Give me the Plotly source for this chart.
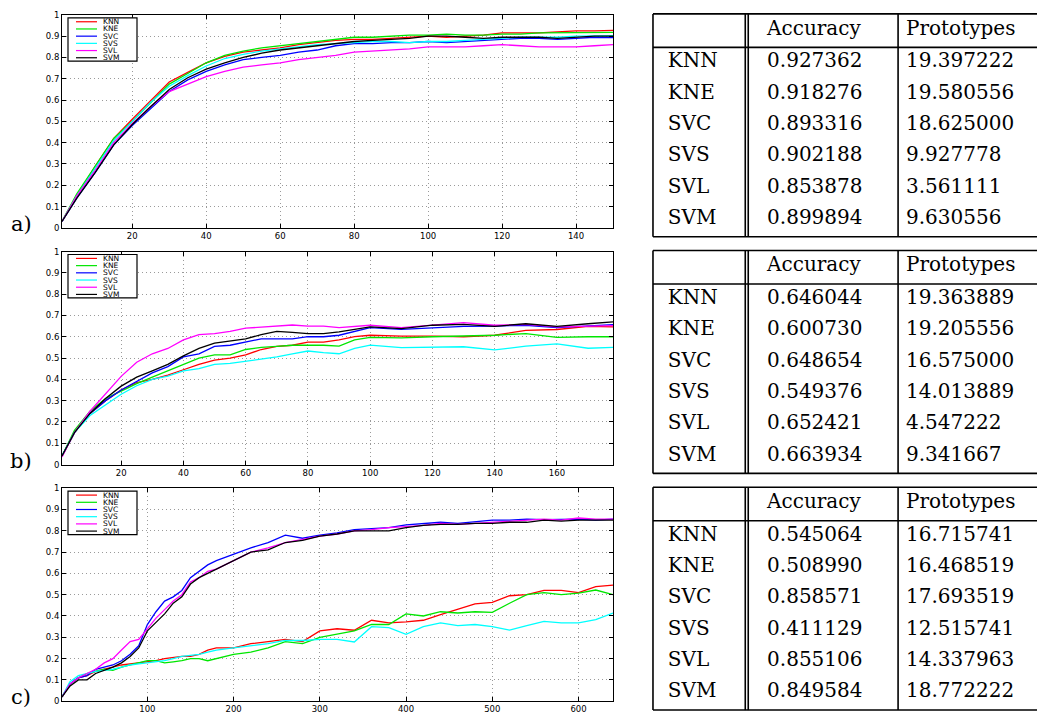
import plotly.graph_objects as go

W, H = 1037, 720

series_names = ["KNN", "KNE", "SVC", "SVS", "SVL", "SVM"]
series_colors = ["#ff0000", "#00e600", "#0000ff", "#00ffff", "#ff00ff", "#000000"]

# ---------------- panel a) ----------------
a_x = [1, 5, 10, 15, 20, 25, 30, 35, 40, 45, 50, 55, 60, 65, 70, 75, 80, 85, 90, 95,
       100, 105, 110, 115, 120, 125, 130, 135, 140, 145, 150]
a_knn = [0.03, 0.15, 0.29, 0.42, 0.51, 0.60, 0.685, 0.73, 0.775, 0.805, 0.825, 0.835, 0.845, 0.86, 0.87,
         0.88, 0.885, 0.885, 0.89, 0.895, 0.90, 0.895, 0.90, 0.905, 0.915, 0.915, 0.915, 0.92, 0.925, 0.925, 0.927]
a_kne = [0.03, 0.16, 0.29, 0.42, 0.50, 0.59, 0.675, 0.725, 0.775, 0.81, 0.83, 0.845, 0.855, 0.865, 0.875,
         0.885, 0.895, 0.895, 0.90, 0.905, 0.905, 0.91, 0.905, 0.905, 0.91, 0.91, 0.915, 0.915, 0.915, 0.915, 0.918]
a_svc = [0.03, 0.14, 0.26, 0.39, 0.48, 0.56, 0.64, 0.695, 0.735, 0.765, 0.79, 0.80, 0.81, 0.825, 0.835,
         0.855, 0.865, 0.865, 0.87, 0.87, 0.875, 0.87, 0.875, 0.88, 0.885, 0.89, 0.89, 0.885, 0.89, 0.895, 0.893]
a_svs = [0.03, 0.15, 0.28, 0.41, 0.50, 0.59, 0.665, 0.715, 0.76, 0.795, 0.815, 0.83, 0.84, 0.85, 0.86,
         0.865, 0.87, 0.875, 0.875, 0.87, 0.875, 0.875, 0.88, 0.885, 0.89, 0.895, 0.895, 0.895, 0.90, 0.90, 0.902]
a_svl = [0.03, 0.15, 0.27, 0.40, 0.49, 0.57, 0.64, 0.675, 0.71, 0.735, 0.755, 0.765, 0.775, 0.79, 0.80,
         0.81, 0.825, 0.83, 0.835, 0.84, 0.85, 0.85, 0.85, 0.855, 0.86, 0.855, 0.85, 0.85, 0.85, 0.855, 0.86]
a_svm = [0.03, 0.14, 0.26, 0.39, 0.485, 0.57, 0.65, 0.705, 0.745, 0.775, 0.80, 0.82, 0.835, 0.845, 0.855,
         0.865, 0.875, 0.88, 0.885, 0.89, 0.90, 0.90, 0.895, 0.89, 0.895, 0.895, 0.895, 0.89, 0.895, 0.90, 0.90]
a_xticks = [20, 40, 60, 80, 100, 120, 140]
a_xrange = [1, 150]

# ---------------- panel b) ----------------
b_x = [1, 5, 10, 15, 20, 25, 30, 35, 40, 45, 50, 55, 60, 65, 70, 75, 80, 85, 90, 95,
       100, 110, 120, 130, 140, 150, 160, 170, 178]
b_knn = [0.04, 0.15, 0.24, 0.30, 0.35, 0.385, 0.40, 0.42, 0.445, 0.47, 0.49, 0.50, 0.515, 0.54, 0.555,
         0.56, 0.575, 0.575, 0.585, 0.60, 0.607, 0.603, 0.603, 0.60, 0.607, 0.63, 0.634, 0.649, 0.646]
b_kne = [0.04, 0.16, 0.25, 0.31, 0.345, 0.38, 0.41, 0.44, 0.47, 0.50, 0.515, 0.515, 0.54, 0.55, 0.555,
         0.56, 0.56, 0.56, 0.556, 0.585, 0.597, 0.595, 0.60, 0.603, 0.607, 0.615, 0.597, 0.60, 0.60]
b_svc = [0.04, 0.15, 0.24, 0.30, 0.35, 0.39, 0.43, 0.46, 0.505, 0.52, 0.555, 0.56, 0.575, 0.59, 0.59,
         0.59, 0.60, 0.60, 0.607, 0.625, 0.643, 0.635, 0.643, 0.649, 0.65, 0.654, 0.643, 0.649, 0.657]
b_svs = [0.04, 0.15, 0.23, 0.28, 0.33, 0.37, 0.40, 0.415, 0.44, 0.45, 0.47, 0.475, 0.485, 0.495, 0.505,
         0.52, 0.533, 0.525, 0.52, 0.545, 0.561, 0.549, 0.55, 0.553, 0.538, 0.556, 0.566, 0.546, 0.55]
b_svl = [0.035, 0.15, 0.25, 0.33, 0.414, 0.48, 0.52, 0.545, 0.585, 0.61, 0.615, 0.625, 0.64, 0.645, 0.65,
         0.655, 0.65, 0.65, 0.643, 0.65, 0.654, 0.643, 0.654, 0.666, 0.654, 0.658, 0.646, 0.649, 0.652]
b_svm = [0.04, 0.15, 0.24, 0.31, 0.368, 0.41, 0.44, 0.47, 0.51, 0.545, 0.57, 0.58, 0.59, 0.61, 0.625,
         0.62, 0.615, 0.615, 0.623, 0.635, 0.646, 0.638, 0.654, 0.658, 0.649, 0.661, 0.649, 0.661, 0.67]
b_xticks = [20, 40, 60, 80, 100, 120, 140, 160]
b_xrange = [1, 178]

# ---------------- panel c) ----------------
c_x = [1, 10, 20, 30, 40, 50, 60, 70, 80, 90, 100, 110, 120, 130, 140, 150, 160, 170, 180, 200, 220,
       240, 260, 280, 300, 320, 340, 360, 380, 400, 420, 440, 460, 480, 500, 520, 540, 560, 580, 600,
       620, 640]
c_knn = [0.02, 0.08, 0.11, 0.12, 0.14, 0.15, 0.16, 0.17, 0.175, 0.18, 0.185, 0.19, 0.20, 0.205, 0.21,
         0.21, 0.22, 0.24, 0.25, 0.25, 0.27, 0.28, 0.29, 0.28, 0.33, 0.34, 0.333, 0.38, 0.368, 0.372,
         0.38, 0.406, 0.43, 0.457, 0.464, 0.495, 0.50, 0.52, 0.52, 0.51, 0.538, 0.545]
c_kne = [0.02, 0.08, 0.11, 0.13, 0.14, 0.15, 0.145, 0.16, 0.17, 0.18, 0.19, 0.19, 0.18, 0.185, 0.19,
         0.20, 0.20, 0.19, 0.20, 0.22, 0.23, 0.25, 0.28, 0.27, 0.30, 0.314, 0.33, 0.36, 0.36, 0.41,
         0.40, 0.42, 0.414, 0.42, 0.417, 0.46, 0.50, 0.51, 0.50, 0.507, 0.522, 0.50]
c_svc = [0.02, 0.08, 0.11, 0.12, 0.15, 0.16, 0.17, 0.19, 0.22, 0.26, 0.36, 0.42, 0.47, 0.49, 0.52,
         0.58, 0.61, 0.64, 0.66, 0.69, 0.72, 0.745, 0.78, 0.765, 0.78, 0.79, 0.805, 0.81, 0.815, 0.828,
         0.835, 0.84, 0.835, 0.842, 0.85, 0.85, 0.855, 0.852, 0.855, 0.855, 0.85, 0.855]
c_svs = [0.02, 0.09, 0.12, 0.13, 0.14, 0.145, 0.15, 0.16, 0.17, 0.175, 0.18, 0.185, 0.19, 0.20, 0.21,
         0.215, 0.22, 0.23, 0.24, 0.25, 0.26, 0.27, 0.285, 0.285, 0.29, 0.29, 0.278, 0.35, 0.345, 0.314,
         0.35, 0.368, 0.355, 0.36, 0.35, 0.334, 0.355, 0.375, 0.368, 0.368, 0.383, 0.414]
c_svl = [0.02, 0.08, 0.11, 0.13, 0.15, 0.18, 0.20, 0.24, 0.28, 0.29, 0.34, 0.39, 0.43, 0.47, 0.50,
         0.56, 0.58, 0.61, 0.62, 0.66, 0.70, 0.72, 0.745, 0.76, 0.775, 0.785, 0.80, 0.805, 0.815, 0.82,
         0.825, 0.835, 0.83, 0.835, 0.84, 0.845, 0.85, 0.855, 0.85, 0.86, 0.855, 0.855]
c_svm = [0.02, 0.07, 0.10, 0.10, 0.13, 0.145, 0.16, 0.18, 0.21, 0.25, 0.33, 0.37, 0.41, 0.46, 0.49,
         0.55, 0.58, 0.60, 0.62, 0.66, 0.70, 0.71, 0.745, 0.755, 0.775, 0.785, 0.80, 0.80, 0.80, 0.815,
         0.825, 0.83, 0.83, 0.835, 0.835, 0.84, 0.84, 0.85, 0.845, 0.85, 0.85, 0.85]
c_xticks = [100, 200, 300, 400, 500, 600]
c_xrange = [1, 640]

y_tickvals = [0, 0.1, 0.2, 0.3, 0.4, 0.5, 0.6, 0.7, 0.8, 0.9, 1]
y_ticktext = ["0", "0.1", "0.2", "0.3", "0.4", "0.5", "0.6", "0.7", "0.8", "0.9", "1"]

# ---------------- tables ----------------
table_header = ["Accuracy", "Prototypes"]
a_accuracy = [0.927362, 0.918276, 0.893316, 0.902188, 0.853878, 0.899894]
a_prototypes = [19.397222, 19.580556, 18.625000, 9.927778, 3.561111, 9.630556]
b_accuracy = [0.646044, 0.600730, 0.648654, 0.549376, 0.652421, 0.663934]
b_prototypes = [19.363889, 19.205556, 16.575000, 14.013889, 4.547222, 9.341667]
c_accuracy = [0.545064, 0.508990, 0.858571, 0.411129, 0.855106, 0.849584]
c_prototypes = [16.715741, 16.468519, 17.693519, 12.515741, 14.337963, 18.772222]

panel_labels = ["a)", "b)", "c)"]

panels = [
    dict(x=a_x, ys=[a_knn, a_kne, a_svc, a_svs, a_svl, a_svm], xticks=a_xticks, xrange=a_xrange,
         acc=a_accuracy, proto=a_prototypes),
    dict(x=b_x, ys=[b_knn, b_kne, b_svc, b_svs, b_svl, b_svm], xticks=b_xticks, xrange=b_xrange,
         acc=b_accuracy, proto=b_prototypes),
    dict(x=c_x, ys=[c_knn, c_kne, c_svc, c_svs, c_svl, c_svm], xticks=c_xticks, xrange=c_xrange,
         acc=c_accuracy, proto=c_prototypes),
]

# ---------------- geometry (pixels) ----------------
PLOT_L, PLOT_R = 62, 613
PLOT_H = 216
PANEL_STEP = 240
PLOT_TOP0 = 10
TAB_L = 650
TAB_TOP0 = 9
TAB_W = 387
TAB_H = 226
TAB_HEADER = 34
ROW0 = 49
ROW_STEP = 31.8
COL_TEXT_X = [15, 115, 255]
VLINES = [93, 96, 247]

SANS = "DejaVu Sans"
SERIF = "DejaVu Serif"

fig = go.Figure()
layout = dict(
    width=W, height=H, margin=dict(l=0, r=0, t=0, b=0),
    paper_bgcolor="white", plot_bgcolor="white", showlegend=False,
    shapes=[], annotations=[],
)


def py(ypx):
    return 1 - ypx / H


for i, p in enumerate(panels):
    n = i + 1
    sfx = "" if n == 1 else str(n)
    top = PLOT_TOP0 + i * PANEL_STEP
    xa, ya = "x" + sfx, "y" + sfx

    for name, color, yv in zip(series_names, series_colors, p["ys"]):
        fig.add_trace(go.Scatter(x=p["x"], y=yv, mode="lines", name=name,
                                 line=dict(color=color, width=1.3),
                                 xaxis=xa, yaxis=ya, showlegend=False))

    axis_common = dict(showline=True, linecolor="black", linewidth=1, mirror="ticks",
                       ticks="inside", ticklen=4, tickcolor="black", showgrid=True,
                       gridcolor="#9a9a9a", griddash="1px,3px", gridwidth=1, zeroline=False,
                       tickfont=dict(family=SANS, size=8.5, color="black"), fixedrange=True)
    layout["xaxis" + sfx] = dict(axis_common, domain=[PLOT_L / W, PLOT_R / W], anchor=ya,
                                 range=p["xrange"], tickvals=p["xticks"])
    layout["yaxis" + sfx] = dict(axis_common, domain=[py(top + PLOT_H), py(top)], anchor=xa,
                                 range=[0, 1], tickvals=y_tickvals, ticktext=y_ticktext)

    # legend box drawn inside the axes (fractions of the subplot domain)
    pw = PLOT_R - PLOT_L
    xd, yd = xa + " domain", ya + " domain"
    layout["shapes"].append(dict(type="rect", xref=xd, yref=yd,
                                 x0=6 / pw, x1=75 / pw, y0=1 - 47 / PLOT_H, y1=1 - 3 / PLOT_H,
                                 line=dict(color="black", width=1.2), fillcolor="white", layer="above"))
    for k, (name, color) in enumerate(zip(series_names, series_colors)):
        yy = 1 - (7.0 + 7.3 * k) / PLOT_H
        layout["shapes"].append(dict(type="line", xref=xd, yref=yd, x0=14 / pw, x1=35 / pw,
                                     y0=yy, y1=yy, line=dict(color=color, width=1.2), layer="above"))
        layout["annotations"].append(dict(xref=xd, yref=yd, x=40 / pw, y=yy, text=name,
                                          showarrow=False, xanchor="left", yanchor="middle",
                                          font=dict(family=SANS, size=7.5, color="black"),
                                          borderpad=0))

    # panel label
    layout["annotations"].append(dict(xref="paper", yref="paper", x=21 / W, y=py(top + 212),
                                      text=panel_labels[i], showarrow=False, xanchor="center",
                                      yanchor="middle", font=dict(family=SERIF, size=21, color="black")))

    # ---------- table ----------
    tn = n + 3
    txa, tya = "x" + str(tn), "y" + str(tn)
    ttop = TAB_TOP0 + i * PANEL_STEP
    layout["xaxis" + str(tn)] = dict(domain=[TAB_L / W, 1], range=[-3, TAB_W], visible=False,
                                     anchor=tya, fixedrange=True)
    layout["yaxis" + str(tn)] = dict(domain=[py(ttop + TAB_H + 3), py(ttop - 3)],
                                     range=[TAB_H + 3, -3], visible=False, anchor=txa, fixedrange=True)
    # header
    fig.add_trace(go.Scatter(x=COL_TEXT_X[1:], y=[TAB_HEADER / 2 - 1] * 2, text=table_header,
                             mode="text", textposition="middle right", xaxis=txa, yaxis=tya,
                             textfont=dict(family=SERIF, size=20, color="black"),
                             hoverinfo="skip", showlegend=False))
    rows_y = [ROW0 + ROW_STEP * k for k in range(len(series_names))]
    columns = [series_names,
               [f"{v:.6f}" for v in p["acc"]],
               [f"{v:.6f}" for v in p["proto"]]]
    for cx, col in zip(COL_TEXT_X, columns):
        fig.add_trace(go.Scatter(x=[cx] * len(col), y=rows_y, text=col, mode="text",
                                 textposition="middle right", xaxis=txa, yaxis=tya,
                                 textfont=dict(family=SERIF, size=20, color="black"),
                                 hoverinfo="skip", showlegend=False))
    lw = dict(color="black", width=1.6)
    for yy in [0, TAB_HEADER, TAB_H]:
        layout["shapes"].append(dict(type="line", xref=txa, yref=tya, x0=0, x1=TAB_W + 5,
                                     y0=yy, y1=yy, line=lw))
    for xx in [0] + VLINES:
        layout["shapes"].append(dict(type="line", xref=txa, yref=tya, x0=xx, x1=xx,
                                     y0=0, y1=TAB_H, line=lw))

fig.update_layout(**layout)
fig.write_html("out.html", config={"displayModeBar": False},
               post_script="document.body.style.margin='0px';document.body.style.overflow='hidden';")
